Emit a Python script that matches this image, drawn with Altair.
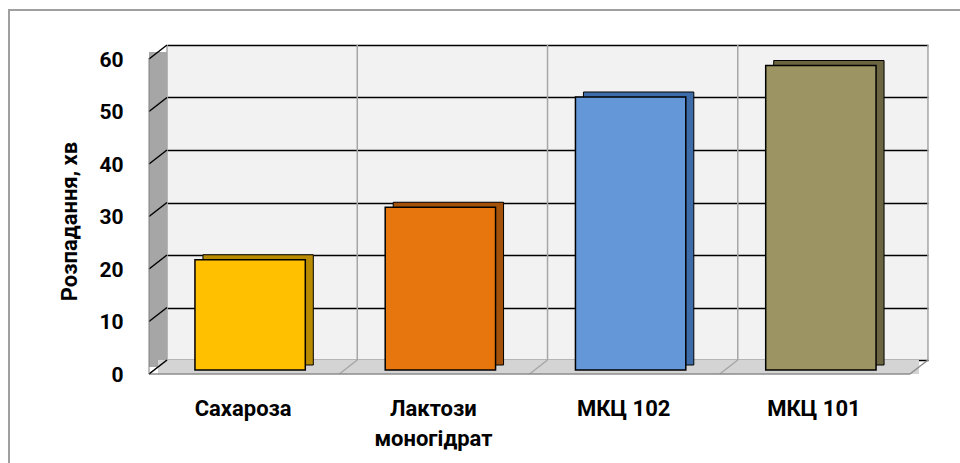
import altair as alt
import pandas as pd

# ---- data ----
categories = ["Сахароза", "Лактози\nмоногідрат", "МКЦ 102", "МКЦ 101"]
values = [21, 31, 52, 58]
face_colors = ["#FFC000", "#E8760F", "#6497D8", "#9C9462"]
side_colors = ["#B98B00", "#A4520A", "#3E6CA8", "#6B6641"]
y_ticks = [0, 10, 20, 30, 40, 50, 60]
y_title = "Розпадання, хв"

df = pd.DataFrame({"cat": categories, "value": values,
                   "face": face_colors, "side": side_colors})
ticks_df = pd.DataFrame({"tick": y_ticks})
last_df = pd.DataFrame({"cat": [categories[-1]]})

W, H = 761, 315
FONT = "Roboto"
HALF = 95.1

xs = alt.Scale(domain=categories, paddingInner=0.42, paddingOuter=0.21)
ys = alt.Scale(domain=[0, 60], nice=False)

x_enc = alt.X("cat:N", scale=xs, sort=categories, title=None,
              axis=alt.Axis(labelAngle=0, labelFont=FONT, labelFontSize=22,
                            labelFontWeight="bold", labelColor="#000000",
                            labelPadding=38, labelOffset=-19, labelLineHeight=30,
                            labelExpr="split(datum.label, '\\n')",
                            ticks=False, domain=False, grid=False))
y_enc = alt.Y("value:Q", scale=ys, title=y_title,
              axis=alt.Axis(values=y_ticks, labelFont=FONT, labelFontSize=21,
                            labelFontWeight="bold", labelColor="#000000",
                            labelPadding=44, labelOffset=15, ticks=False, tickSize=0,
                            domain=False, grid=True, gridColor="#000000", gridWidth=1.5,
                            titleFont=FONT, titleFontSize=22, titleFontWeight="bold",
                            titleColor="#000000", titleX=-98, titleY=176,
                            titleAngle=270, titleAlign="center", titleBaseline="middle"))

base = alt.Chart(df)

# back wall grid + axes (invisible carrier)
axes = base.mark_bar(opacity=0).encode(x=x_enc, y=y_enc)

# vertical grid lines on the back wall, at band boundaries
vgrid = base.mark_rule(
    color="#a6a6a6", strokeWidth=1.5, xOffset=-HALF, x2Offset=-HALF
).encode(x=alt.X("cat:N", scale=xs, sort=categories), x2=alt.X2("cat:N"),
         y=alt.datum(60), y2=alt.datum(0))
vgrid_end = alt.Chart(last_df).mark_rule(
    color="#a6a6a6", strokeWidth=1.5, xOffset=HALF, x2Offset=HALF
).encode(x=alt.X("cat:N", scale=xs, sort=categories), x2=alt.X2("cat:N"),
         y=alt.datum(60), y2=alt.datum(0))

# left wall
left_wall = alt.Chart(ticks_df).transform_filter("datum.tick == 60").mark_rect(
    color="#a6a6a6", yOffset=7, y2Offset=7
).encode(x=alt.value(-18), x2=alt.value(0),
         y=alt.Y("tick:Q", scale=ys), y2=alt.datum(0))

# floor
floor = alt.Chart(ticks_df).transform_filter("datum.tick == 0").mark_rect(
    color="#d4d4d4", y2Offset=14
).encode(x=alt.value(-9), x2=alt.value(W - 9),
         y=alt.Y("tick:Q", scale=ys), y2=alt.Y2("tick:Q"))

# diagonal grid lines on the left wall
wall_lines = alt.Chart(ticks_df).mark_rule(
    color="#000000", strokeWidth=1.5, y2Offset=14
).encode(x=alt.value(0), x2=alt.value(-18),
         y=alt.Y("tick:Q", scale=ys), y2=alt.Y2("tick:Q"))

# left wall front edge
wall_edge = alt.Chart(ticks_df).transform_filter("datum.tick == 60").mark_rule(
    color="#7f7f7f", strokeWidth=1, yOffset=13, y2Offset=14
).encode(x=alt.value(-18), y=alt.Y("tick:Q", scale=ys), y2=alt.datum(0))

# floor diagonal lines at band boundaries
floor_lines = base.mark_rule(
    color="#a6a6a6", strokeWidth=1.5, xOffset=-HALF, x2Offset=-HALF - 18, y2Offset=14
).encode(x=alt.X("cat:N", scale=xs, sort=categories), x2=alt.X2("cat:N"),
         y=alt.datum(0), y2=alt.datum(0))
floor_end = alt.Chart(last_df).mark_rule(
    color="#8c8c8c", strokeWidth=1.5, xOffset=HALF, x2Offset=HALF - 18, y2Offset=14
).encode(x=alt.X("cat:N", scale=xs, sort=categories), x2=alt.X2("cat:N"),
         y=alt.datum(0), y2=alt.datum(0))
floor_front = alt.Chart(ticks_df).transform_filter("datum.tick == 0").mark_rule(
    color="#8c8c8c", strokeWidth=1.5, yOffset=14
).encode(x=alt.value(-18), x2=alt.value(W - 18), y=alt.Y("tick:Q", scale=ys))

# bars: depth (top + side faces) then front face
bar_back = base.mark_bar(
    stroke="#000000", strokeWidth=1, xOffset=-4, yOffset=5, y2Offset=5
).encode(x=alt.X("cat:N", scale=xs, sort=categories),
         y=alt.Y("value:Q", scale=ys),
         color=alt.Color("side:N", scale=None))
bar_front = base.mark_bar(
    stroke="#000000", strokeWidth=1.5, xOffset=-12, yOffset=10, y2Offset=10
).encode(x=alt.X("cat:N", scale=xs, sort=categories),
         y=alt.Y("value:Q", scale=ys),
         color=alt.Color("face:N", scale=None))

# outer frame
frame = alt.Chart(last_df).mark_rect(
    filled=False, stroke="#a0a0a0", strokeWidth=2
).encode(x=alt.value(-158), y=alt.value(-35), x2=alt.value(900), y2=alt.value(500))

chart = alt.layer(
    axes, vgrid, vgrid_end, left_wall, floor, floor_lines, floor_end, floor_front,
    wall_lines, wall_edge, bar_back, bar_front, frame
).properties(
    width=W, height=H,
    autosize=alt.AutoSizeParams(type="none"),
    padding={"left": 167, "top": 45, "right": 32, "bottom": 103},
    background="#ffffff",
).configure_view(fill="#f2f2f2", stroke=None)

chart.save("out.html", embed_options={"renderer": "svg", "actions": False})
